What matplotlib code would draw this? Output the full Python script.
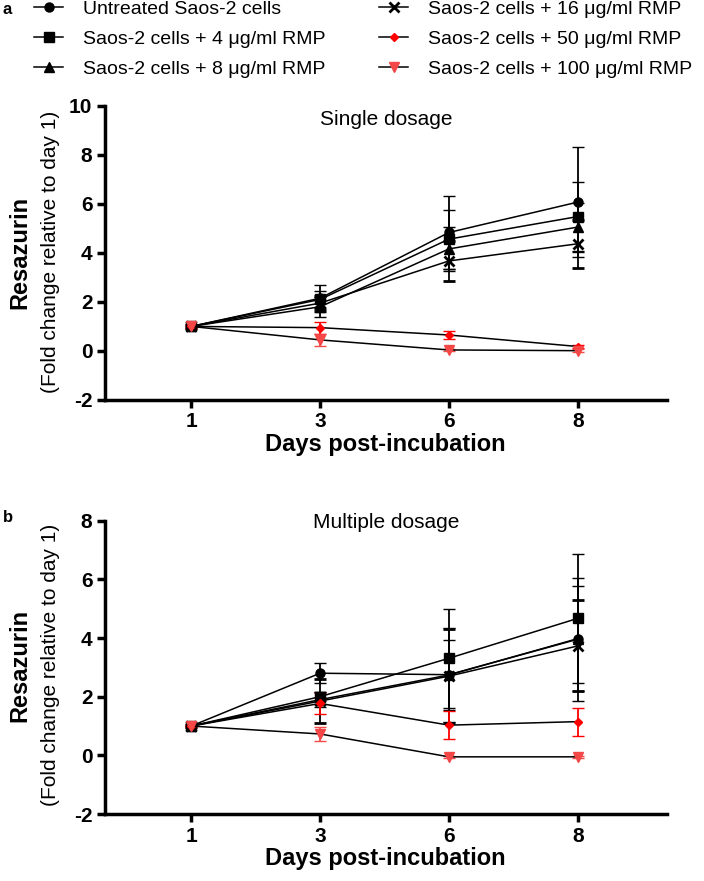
import matplotlib
matplotlib.use('Agg')
import matplotlib.pyplot as plt
from matplotlib.lines import Line2D
import numpy as np

plt.rcParams['font.family'] = ['Liberation Sans', 'DejaVu Sans']
plt.rcParams['axes.unicode_minus'] = False

days = ['1', '3', '6', '8']
labels = ['Untreated Saos-2 cells',
          'Saos-2 cells + 4 \u03bcg/ml RMP',
          'Saos-2 cells + 8 \u03bcg/ml RMP',
          'Saos-2 cells + 16 \u03bcg/ml RMP',
          'Saos-2 cells + 50 \u03bcg/ml RMP',
          'Saos-2 cells + 100 \u03bcg/ml RMP']
markers = ['o', 's', '^', 'x', 'D', 'v']
colors = ['black', 'black', 'black', 'black', '#ff0000', '#f44848']

# single dosage (panel a)
single_mean = [
    [1.0, 2.15, 4.83, 6.07],
    [1.0, 2.10, 4.56, 5.48],
    [1.0, 1.80, 4.16, 5.05],
    [1.0, 1.95, 3.67, 4.37],
    [1.0, 0.95, 0.65, 0.18],
    [1.0, 0.45, 0.04, 0.01],
]
single_err = [
    [0.05, 0.55, 1.50, 2.25],
    [0.05, 0.35, 1.20, 1.40],
    [0.05, 0.40, 0.90, 1.00],
    [0.05, 0.30, 0.80, 0.97],
    [0.05, 0.25, 0.15, 0.05],
    [0.05, 0.25, 0.05, 0.05],
]

# multiple dosage (panel b)
multi_mean = [
    [1.0, 2.80, 2.75, 3.96],
    [1.0, 2.00, 3.31, 4.67],
    [1.0, 1.90, 2.74, 3.98],
    [1.0, 1.85, 2.70, 3.73],
    [1.0, 1.77, 1.03, 1.15],
    [1.0, 0.73, -0.05, -0.05],
]
multi_err = [
    [0.05, 0.35, 1.60, 2.10],
    [0.05, 0.15, 1.68, 2.20],
    [0.05, 0.25, 1.20, 1.80],
    [0.05, 0.75, 1.60, 1.55],
    [0.05, 0.35, 0.47, 0.48],
    [0.05, 0.25, 0.03, 0.03],
]

fig = plt.figure(figsize=(7.04, 8.81), dpi=100)
ax_a = fig.add_axes([0.149, 0.546, 0.798, 0.334])
ax_b = fig.add_axes([0.149, 0.076, 0.798, 0.333])

x = np.arange(len(days))


def marker_style(i):
    return dict(marker=markers[i], ms=4.5 if markers[i] == 'D' else 6.5,
                mfc=colors[i], mec=colors[i], mew=2 if markers[i] == 'x' else 1)


def draw_panel(ax, means, errs, ylim, yticks, title, title_y):
    for i in range(len(labels)):
        ax.errorbar(x, means[i], yerr=errs[i], color='black', lw=1.1,
                    ecolor=colors[i], elinewidth=1.3, capsize=4, capthick=1.3,
                    **marker_style(i))
    ax.set_xlim(-0.67, 3.69)
    ax.set_ylim(*ylim)
    ax.set_yticks(yticks)
    ax.set_xticks(x)
    ax.set_xticklabels(days)
    for s in ['top', 'right']:
        ax.spines[s].set_visible(False)
    for s in ['left', 'bottom']:
        ax.spines[s].set_linewidth(2.5)
    ax.tick_params(width=2.5, length=6, labelsize=15, pad=3)
    for t in ax.get_xticklabels() + ax.get_yticklabels():
        t.set_fontweight('bold')
    ax.set_xlabel('Days post-incubation', fontsize=17, fontweight='bold', labelpad=1)
    ax.text(0.5, title_y, title, transform=ax.transAxes, ha='center', va='center', fontsize=15)


draw_panel(ax_a, single_mean, single_err, (-2, 10), range(-2, 11, 2), 'Single dosage', 0.952)
draw_panel(ax_b, multi_mean, multi_err, (-2, 8), range(-2, 9, 2), 'Multiple dosage', 0.995)

for yc in [0.714, 0.245]:
    fig.text(0.028, yc, 'Resazurin', rotation=90, ha='center', va='center',
             fontsize=17, fontweight='bold')
    fig.text(0.072, yc, '(Fold change relative to day 1)', rotation=90,
             ha='center', va='center', fontsize=15)

fig.text(0.004, 1 - 10 / 881, 'a', fontsize=12, fontweight='bold', va='center')
fig.text(0.004, 1 - 518 / 881, 'b', fontsize=12, fontweight='bold', va='center')

handles = [Line2D([], [], color='black', lw=1.1, **marker_style(i)) for i in range(len(labels))]
for cols, x0 in [(slice(0, 3), 34 / 704), (slice(3, 6), 379 / 704)]:
    fig.legend(handles=handles[cols], labels=labels[cols], loc='upper left',
               bbox_to_anchor=(x0, 1), frameon=False, fontsize=14,
               handlelength=1.5, labelspacing=0.64, handletextpad=1.0,
               borderpad=0, borderaxespad=0)

fig.savefig('out.png', dpi=100)
